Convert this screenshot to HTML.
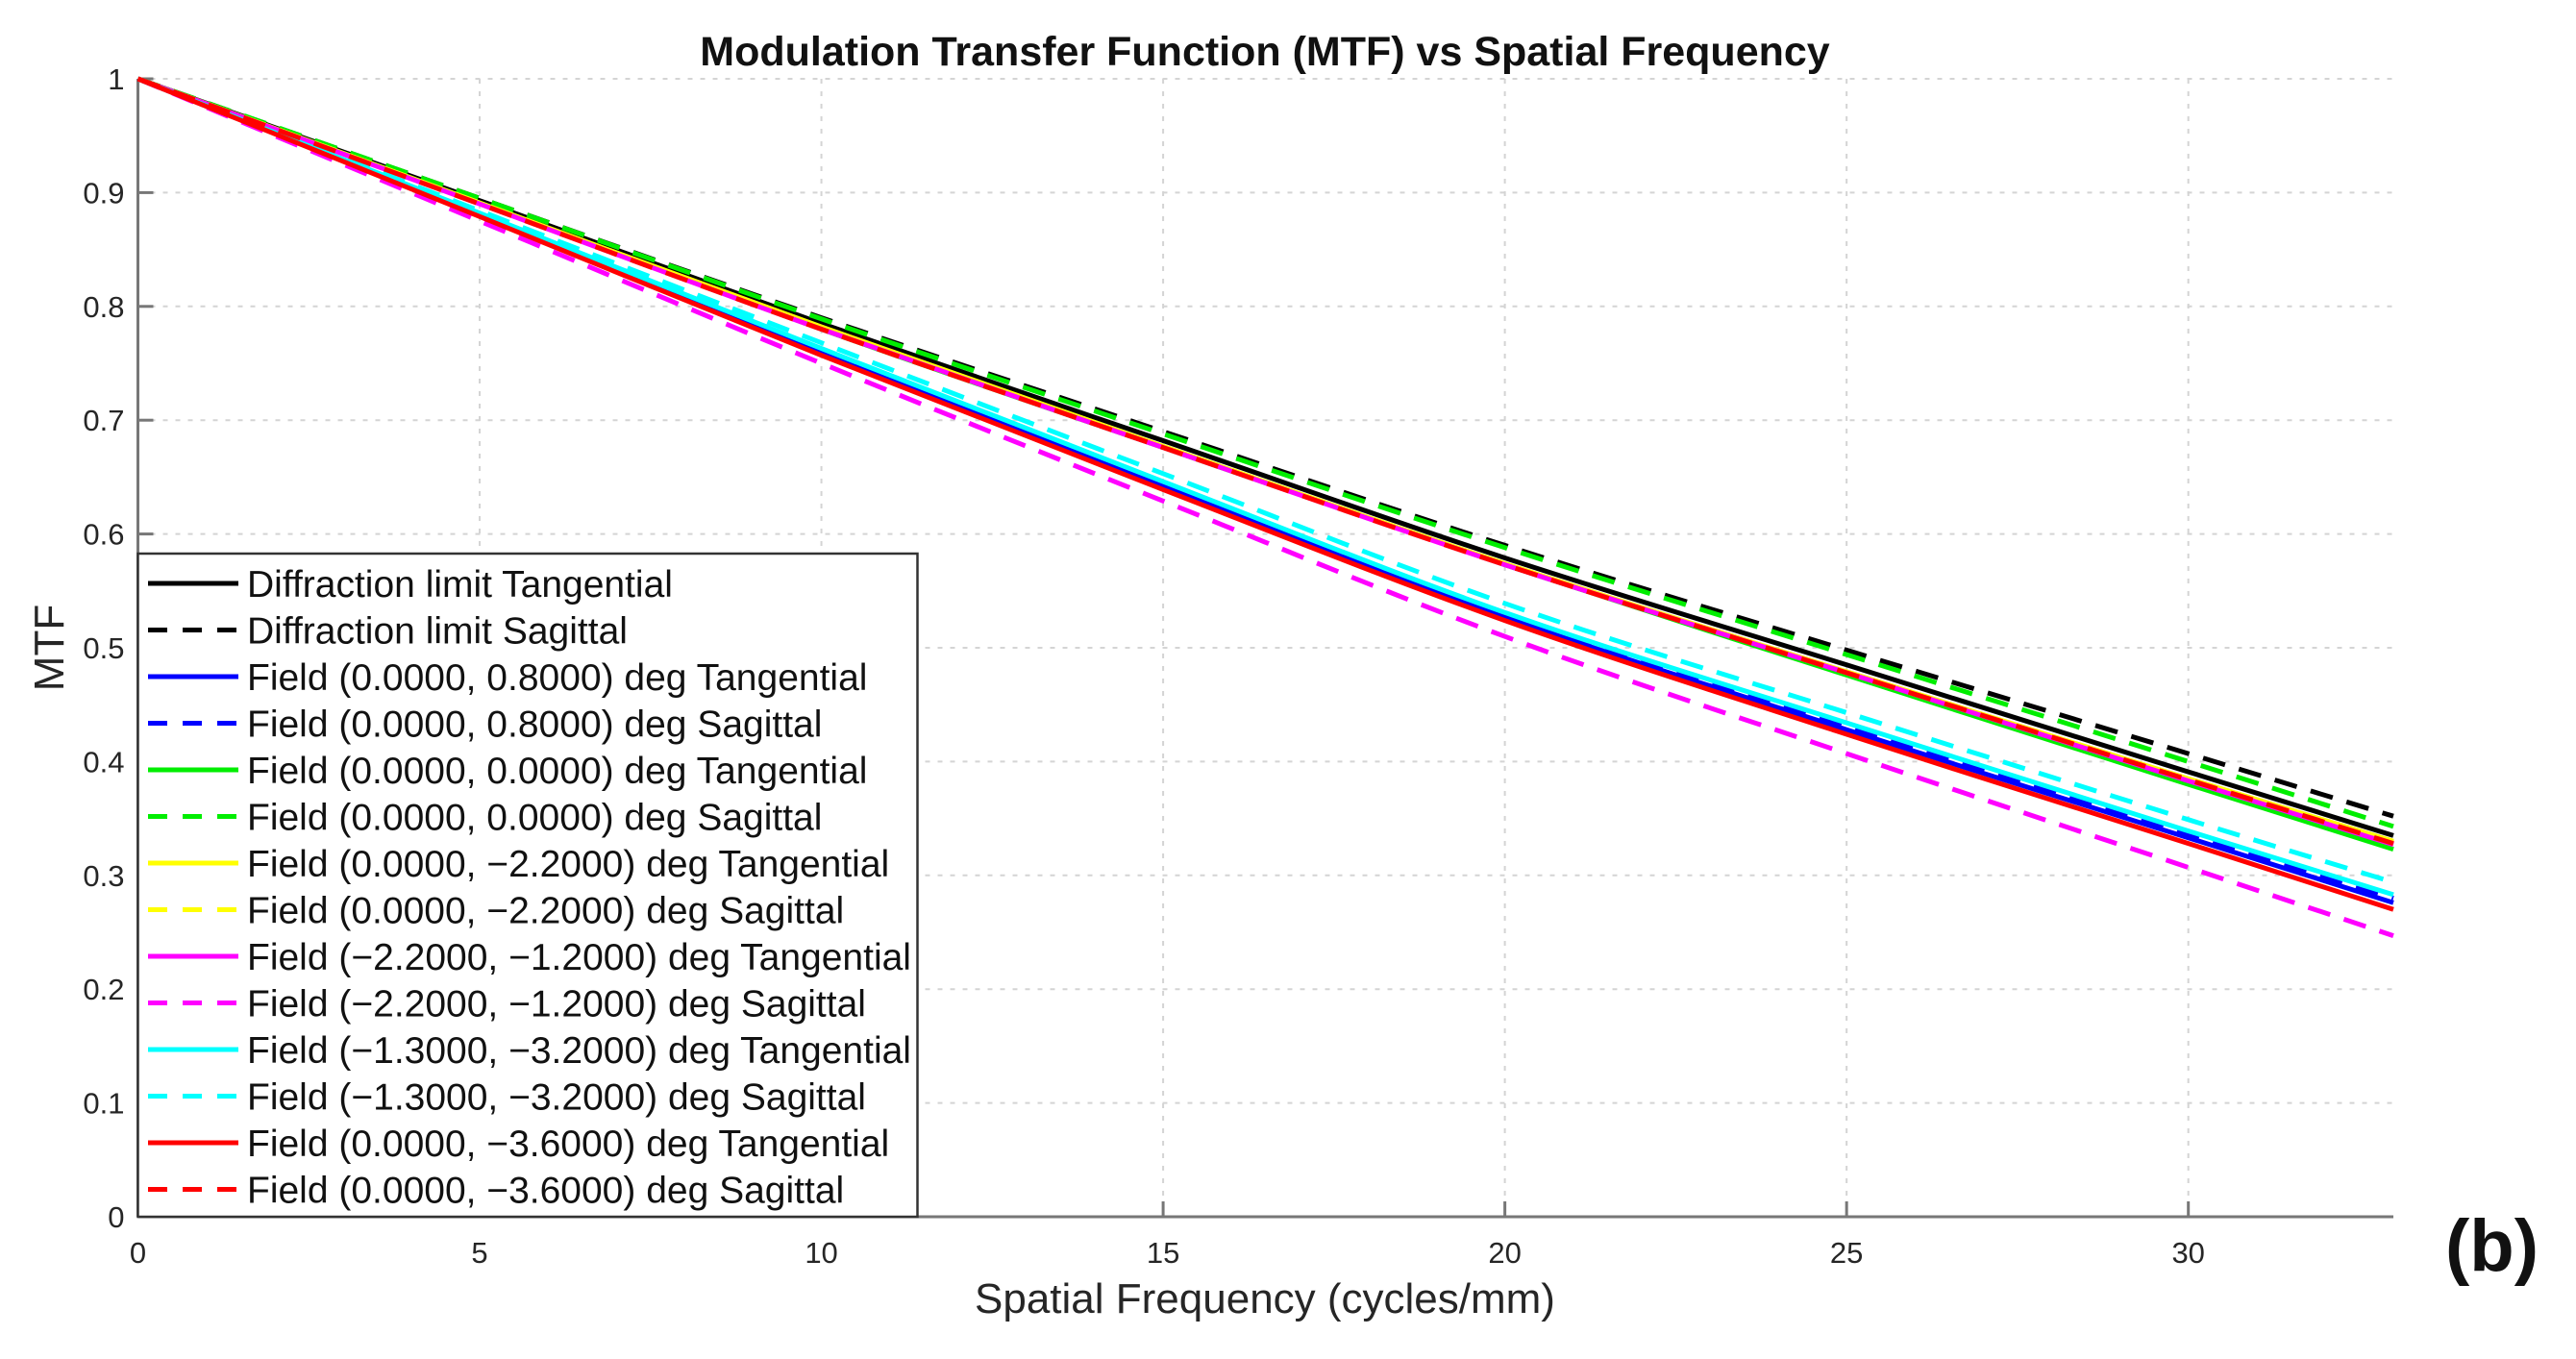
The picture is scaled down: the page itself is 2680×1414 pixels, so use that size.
<!DOCTYPE html>
<html><head><meta charset="utf-8"><style>
html,body{margin:0;padding:0;background:#fff;}
svg{display:block;font-family:"Liberation Sans",Arial,sans-serif;}
</style></head><body>
<svg id="chart" width="2680" height="1414" viewBox="0 0 2680 1414" xmlns="http://www.w3.org/2000/svg">
<rect x="0" y="0" width="2680" height="1414" fill="#fff"/>
<g id="grid"></g>
<g id="axes"></g>
<g id="series"></g>
<g id="legend"></g>
<text x="1316" y="68" text-anchor="middle" font-size="43" font-weight="bold" fill="#111">Modulation Transfer Function (MTF) vs Spatial Frequency</text>
<text x="1316" y="1366" text-anchor="middle" font-size="44" fill="#262626">Spatial Frequency (cycles/mm)</text>
<text transform="translate(66,674) rotate(-90)" text-anchor="middle" font-size="44" fill="#262626">MTF</text>
<text x="2544" y="1322" font-size="76" font-weight="bold" fill="#111">(b)</text>
</svg>
<script>
const xValues = [0, 5, 10, 15, 20, 25, 30, 33];
const xTicks = [0, 5, 10, 15, 20, 25, 30];
const yTicks = [0, 0.1, 0.2, 0.3, 0.4, 0.5, 0.6, 0.7, 0.8, 0.9, 1];
const yTickLabels = ["0","0.1","0.2","0.3","0.4","0.5","0.6","0.7","0.8","0.9","1"];
const seriesNames = [
 "Diffraction limit Tangential","Diffraction limit Sagittal",
 "Field (0.0000, 0.8000) deg Tangential","Field (0.0000, 0.8000) deg Sagittal",
 "Field (0.0000, 0.0000) deg Tangential","Field (0.0000, 0.0000) deg Sagittal",
 "Field (0.0000, \u22122.2000) deg Tangential","Field (0.0000, \u22122.2000) deg Sagittal",
 "Field (\u22122.2000, \u22121.2000) deg Tangential","Field (\u22122.2000, \u22121.2000) deg Sagittal",
 "Field (\u22121.3000, \u22123.2000) deg Tangential","Field (\u22121.3000, \u22123.2000) deg Sagittal",
 "Field (0.0000, \u22123.6000) deg Tangential","Field (0.0000, \u22123.6000) deg Sagittal"];
const dlTan = [1,.893,.785,.682,.579,.485,.391,.335];
const dlSag = [1,.895,.790,.690,.590,.498,.407,.352];
const f1Tan = [1,.880,.760,.642,.527,.428,.333,.276];
const f1Sag = [1,.881,.762,.645,.530,.432,.337,.280];
const f2Tan = [1,.891,.780,.676,.573,.476,.380,.323];
const f2Sag = [1,.895,.789,.688,.588,.494,.400,.343];
const f3Tan = [1,.891,.782,.677,.574,.479,.385,.330];
const f3Sag = [1,.891,.781,.677,.574,.478,.384,.329];
const f4Tan = [1,.890,.780,.676,.573,.478,.383,.327];
const f4Sag = [1,.875,.750,.629,.510,.407,.307,.247];
const f5Tan = [1,.882,.763,.646,.531,.434,.339,.283];
const f5Sag = [1,.884,.768,.653,.539,.443,.349,.294];
const f6Tan = [1,.879,.757,.639,.524,.424,.328,.270];
const f6Sag = [1,.890,.780,.676,.573,.478,.384,.328];
const seriesValues = [dlTan,dlSag,f1Tan,f1Sag,f2Tan,f2Sag,f3Tan,f3Sag,f4Tan,f4Sag,f5Tan,f5Sag,f6Tan,f6Sag];
const seriesColors = ["#000","#000","#0000ff","#0000ff","#00ee00","#00ee00","#ffff00","#ffff00","#ff00ff","#ff00ff","#00ffff","#00ffff","#ff0000","#ff0000"];

const NS="http://www.w3.org/2000/svg";
const L=143.5,R=2490,T=82,B=1266,XMAX=33;
const xs=v=>L+(R-L)*v/XMAX;
const ys=v=>B-(B-T)*v;
function mk(tag,attrs,parent){const e=document.createElementNS(NS,tag);for(const k in attrs)e.setAttribute(k,attrs[k]);parent.appendChild(e);return e;}
function smoothPath(p){
 let d='M'+p[0][0].toFixed(1)+','+p[0][1].toFixed(1);
 for(let i=0;i<p.length-1;i++){
  const p0=p[i-1]||p[i],p1=p[i],p2=p[i+1],p3=p[i+2]||p2;
  const c1x=p1[0]+(p2[0]-p0[0])/6,c1y=p1[1]+(p2[1]-p0[1])/6;
  const c2x=p2[0]-(p3[0]-p1[0])/6,c2y=p2[1]-(p3[1]-p1[1])/6;
  d+=' C'+c1x.toFixed(1)+','+c1y.toFixed(1)+' '+c2x.toFixed(1)+','+c2y.toFixed(1)+' '+p2[0].toFixed(1)+','+p2[1].toFixed(1);
 }
 return d;
}
const grid=document.getElementById('grid'),axes=document.getElementById('axes'),ser=document.getElementById('series'),leg=document.getElementById('legend');
xTicks.forEach((t,i)=>{
 if(t>0){const g=mk('line',{x1:xs(t),x2:xs(t),y1:T,y2:B,stroke:'#d4d4d4','stroke-width':2,'stroke-dasharray':'5 8'},grid);
 
 }
 const tk=mk('line',{x1:xs(t),x2:xs(t),y1:B,y2:B-16,stroke:'#777','stroke-width':3},axes);
 
 
 const lb=mk('text',{x:xs(t),y:B+48,'text-anchor':'middle','font-size':31,fill:'#262626'},axes);lb.textContent=String(t);
 
 
});
yTicks.forEach((t,i)=>{
 if(t>0){const g=mk('line',{x1:L,x2:R,y1:ys(t),y2:ys(t),stroke:'#d4d4d4','stroke-width':2,'stroke-dasharray':'5 8'},grid);
 
 }
 const tk=mk('line',{x1:L,x2:L+16,y1:ys(t),y2:ys(t),stroke:'#777','stroke-width':3},axes);
 
 
 const lb=mk('text',{x:L-14,y:ys(t)+11,'text-anchor':'end','font-size':31,fill:'#262626'},axes);lb.textContent=yTickLabels[i];
 
 
});
const xa=mk('line',{x1:L,x2:R,y1:B,y2:B,stroke:'#777','stroke-width':3},axes);


const ya=mk('line',{x1:L,x2:L,y1:T,y2:B,stroke:'#777','stroke-width':3},axes);


seriesValues.forEach((vals,si)=>{
 const pts=vals.map((v,i)=>[xs(xValues[i]),ys(v)]);
 const a={d:smoothPath(pts),fill:'none',stroke:seriesColors[si],'stroke-width':5,'stroke-linejoin':'round'};
 if(si%2===1)a['stroke-dasharray']='24 15';
 const p=mk('path',a,ser);
 
 
});
const bx=mk('rect',{x:L,y:576,width:811,height:690,fill:'#fff',stroke:'#333','stroke-width':2.5},leg);


seriesNames.forEach((n,i)=>{
 const y=607+i*48.5;
 const a={x1:154,x2:248,y1:y,y2:y,stroke:seriesColors[i],'stroke-width':5};
 if(i%2===1)a['stroke-dasharray']='20 16';
 const ln=mk('line',a,leg);
 
 
 const t=mk('text',{x:257,y:y+14,'font-size':39,fill:'#111'},leg);t.textContent=n;
 
 
});
</script>
</body></html>
